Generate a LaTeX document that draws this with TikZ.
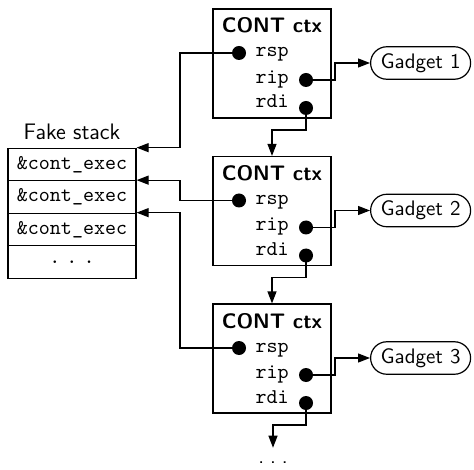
\documentclass[tikz,border=0pt]{standalone}
\usetikzlibrary{calc,arrows.meta,shapes.misc}

\newcommand{\spdots}{.\kern3pt.\kern3pt.}

\begin{document}
\begin{tikzpicture}[x=0.5pt,y=-0.5pt,line width=0.6pt,
  font=\fontsize{10.5}{12}\selectfont\sffamily,
  ctxbox/.style={draw, minimum width=59pt, minimum height=54.5pt},
  reg/.style={font=\fontsize{10.5}{12}\selectfont\ttfamily, inner sep=0pt, anchor=base west},
  dot/.style={circle, fill, inner sep=0pt, minimum size=7pt},
  slot/.style={draw, minimum width=64pt, minimum height=16.25pt, inner sep=0pt,
    font=\fontsize{10.5}{12}\selectfont\ttfamily},
  gadget/.style={draw, rounded rectangle, minimum height=16pt, minimum width=52pt,
    inner xsep=1pt, anchor=west},
  arr/.style={-{Triangle[length=6pt,width=4.5pt]}}]
\useasboundingbox (0,0) rectangle (474,469);

% fake stack
\node[font=\fontsize{11.2}{13}\selectfont\sffamily] (stk) at (72,132) {Fake stack};
\node[slot] (s1) at (72,164.5) {\&cont\_exec};
\node[slot] (s2) at (72,197) {\&cont\_exec};
\node[slot] (s3) at (72,229.5) {\&cont\_exec};
\node[slot] (s4) at (72,262) {\spdots};

% contexts
\foreach \i in {1,2,3}{
  \pgfmathsetmacro\t{9+147.5*(\i-1)}
  \node[ctxbox] (ctx\i) at (272,\t+54.5) {};
  \node[anchor=base,font=\fontsize{10.5}{12}\selectfont\sffamily\bfseries] (ttl\i) at (272,\t+24) {CONT ctx};
  \node[reg] (rsp\i) at (255,\t+48) {rsp};
  \node[reg] (rip\i) at (255,\t+74.5) {rip};
  \node[reg] (rdi\i) at (255,\t+99) {rdi};
  \node[dot] (rspdot\i) at (239,\t+44) {};
  \node[dot] (ripdot\i) at (306,\t+71) {};
  \node[dot] (rdidot\i) at (306,\t+99) {};
  \node[gadget] (gad\i) at (370,\t+54) {Gadget \i};
  \coordinate (bend\i) at (180,\t+44);
  \draw[arr] (rspdot\i.center) -- (bend\i) |- (s\i.north east);
  \draw[arr] (ripdot\i.center) -- ++(29,0) |- (gad\i.west);
}
\node[inner ysep=6.9pt] (more) at (273,463) {\spdots};

\draw[arr] (rdidot1.center) -- ++(0,22) -| (ctx2.north);
\draw[arr] (rdidot2.center) -- ++(0,22) -| (ctx3.north);
\draw[arr] (rdidot3.center) -- ++(0,22) -| (more.north);
\end{tikzpicture}
\end{document}
